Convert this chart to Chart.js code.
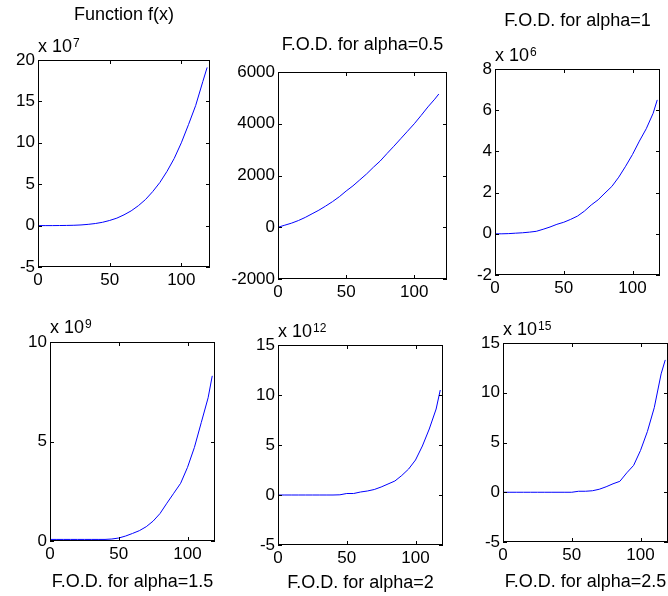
<!DOCTYPE html>
<html>
<head>
<meta charset="utf-8">
<script src="https://cdn.jsdelivr.net/npm/chart.js@4.4.1/dist/chart.umd.min.js"></script>
<style>
  html, body { margin: 0; padding: 0; background: #fff; }
  #wrap { position: relative; width: 668px; height: 596px; overflow: hidden; }
  #wrap canvas { position: absolute; left: 0; top: 0; }
</style>
</head>
<body>
<div id="wrap"></div>
<script>
// sample positions along x (same for every panel)
const xValues = [0, 5, 10, 15, 20, 25, 30, 35, 40, 45, 50, 55, 60, 65, 70, 75, 80, 85, 90, 95, 100, 105, 110, 115, 118];

// values, in the units shown on each axis
const fValues = [0, 0, 0, 0.01, 0.02, 0.04, 0.08, 0.15, 0.25, 0.4, 0.62, 0.9, 1.3, 1.78, 2.4, 3.15, 4.1, 5.2, 6.55, 8.1, 10.0, 12.2, 14.5, 17.4, 19.1];
const fod05Values = [0, 80, 160, 260, 380, 520, 660, 820, 990, 1180, 1400, 1600, 1830, 2060, 2320, 2560, 2850, 3130, 3420, 3710, 4000, 4320, 4650, 4950, 5150];
const fod1Values = [0, 0, 0.01, 0.03, 0.05, 0.08, 0.12, 0.22, 0.33, 0.46, 0.56, 0.7, 0.86, 1.1, 1.4, 1.65, 1.98, 2.3, 2.75, 3.28, 3.85, 4.5, 5.1, 5.85, 6.5];
const fod15Values = [0.08, 0.08, 0.08, 0.08, 0.08, 0.08, 0.08, 0.08, 0.08, 0.1, 0.15, 0.25, 0.38, 0.52, 0.72, 1.0, 1.38, 1.9, 2.4, 2.9, 3.7, 4.7, 5.95, 7.2, 8.3];
const fod2Values = [0, 0, 0, 0, 0, 0, 0, 0, 0, 0.02, 0.15, 0.15, 0.3, 0.4, 0.55, 0.8, 1.1, 1.4, 1.95, 2.6, 3.5, 4.9, 6.6, 8.6, 10.5];
const fod25Values = [0, 0, 0, 0, 0, 0, 0, 0, 0, 0, 0, 0.1, 0.1, 0.15, 0.3, 0.55, 0.85, 1.1, 1.95, 2.7, 4.2, 6.1, 8.5, 11.9, 13.3];

// tick labels
const xTicks = [0, 50, 100];
const fTicks = [-5, 0, 5, 10, 15, 20];
const fod05Ticks = [-2000, 0, 2000, 4000, 6000];
const fod1Ticks = [-2, 0, 2, 4, 6, 8];
const fod15Ticks = [0, 5, 10];
const fod2Ticks = [-5, 0, 5, 10, 15];
const fod25Ticks = [-5, 0, 5, 10, 15];

// axis exponents and labels
const exponents = ['7', null, '6', '9', '12', '15'];
const titles = ['Function f(x)', 'F.O.D. for alpha=0.5', 'F.O.D. for alpha=1', null, null, null];
const xLabels = [null, null, null, 'F.O.D. for alpha=1.5', 'F.O.D. for alpha=2', 'F.O.D. for alpha=2.5'];

const W = 668, H = 596;
const Y_AXIS_W = 50, X_AXIS_H = 30;
const FONT = "'Liberation Sans', Arial, sans-serif";

// layout of each subplot box, and where its texts sit
const panels = [
  { values: fValues, yTicks: fTicks, xMax: 120, box: [38, 60, 210, 267], titleY: 20, exp: [38, 52] },
  { values: fod05Values, yTicks: fod05Ticks, xMax: 124, box: [278, 72, 447, 279], titleY: 50, exp: null },
  { values: fod1Values, yTicks: fod1Ticks, xMax: 120, box: [495, 69, 660, 275], titleY: 26, exp: [495, 61] },
  { values: fod15Values, yTicks: fod15Ticks, xMax: 120, box: [50, 342, 215, 541], labelY: 587, exp: [50, 333] },
  { values: fod2Values, yTicks: fod2Ticks, xMax: 120, box: [278, 345, 443, 545], labelY: 588, exp: [278, 337] },
  { values: fod25Values, yTicks: fod25Ticks, xMax: 120, box: [503, 343, 668, 542], labelY: 587, exp: [503, 335] }
];

function framePlugin(i) {
  const p = panels[i];
  return {
    id: 'frame' + i,
    afterDraw(chart) {
      const { ctx, chartArea: a, scales: { x, y } } = chart;
      ctx.save();
      ctx.strokeStyle = '#000';
      ctx.lineWidth = 1;
      ctx.strokeRect(a.left + 0.5, a.top + 0.5, a.width - 1, a.height - 1);
      ctx.beginPath();
      x.ticks.forEach(t => {
        const px = Math.round(x.getPixelForValue(t.value)) + 0.5;
        ctx.moveTo(px, a.bottom); ctx.lineTo(px, a.bottom - 4);
        ctx.moveTo(px, a.top); ctx.lineTo(px, a.top + 4);
      });
      y.ticks.forEach(t => {
        const py = Math.round(y.getPixelForValue(t.value)) + 0.5;
        ctx.moveTo(a.left, py); ctx.lineTo(a.left + 4, py);
        ctx.moveTo(a.right, py); ctx.lineTo(a.right - 4, py);
      });
      ctx.stroke();

      ctx.fillStyle = '#000';
      ctx.textBaseline = 'alphabetic';
      const cx = (a.left + a.right) / 2;
      ctx.font = '18px ' + FONT;
      ctx.textAlign = 'center';
      if (titles[i]) ctx.fillText(titles[i], cx, p.titleY);
      if (xLabels[i]) ctx.fillText(xLabels[i], cx, p.labelY);
      if (exponents[i]) {
        ctx.textAlign = 'left';
        ctx.fillText('x 10', p.exp[0], p.exp[1]);
        const w = ctx.measureText('x 10').width;
        ctx.font = '12px ' + FONT;
        ctx.fillText(exponents[i], p.exp[0] + w + 1, p.exp[1] - 5);
      }
      ctx.restore();
    }
  };
}

const wrap = document.getElementById('wrap');

panels.forEach((p, i) => {
  const canvas = document.createElement('canvas');
  canvas.width = W;
  canvas.height = H;
  wrap.appendChild(canvas);
  const [left, top, right, bottom] = p.box;

  new Chart(canvas, {
    type: 'line',
    data: {
      datasets: [{
        data: xValues.map((x, k) => ({ x: x, y: p.values[k] })),
        borderColor: '#0000ff',
        borderWidth: 1,
        pointRadius: 0,
        tension: 0,
        fill: false
      }]
    },
    options: {
      responsive: false,
      animation: false,
      events: [],
      layout: {
        padding: { left: left - Y_AXIS_W, top: top, right: W - right, bottom: H - bottom - X_AXIS_H }
      },
      plugins: { legend: { display: false }, tooltip: { enabled: false } },
      scales: {
        x: {
          type: 'linear',
          min: 0,
          max: p.xMax,
          grid: { display: false, drawTicks: false },
          border: { display: false },
          afterBuildTicks: s => { s.ticks = xTicks.map(v => ({ value: v })); },
          afterFit: s => { s.height = X_AXIS_H; },
          ticks: { color: '#000', padding: 3, maxRotation: 0, font: { family: FONT, size: 17 }, callback: v => String(v) }
        },
        y: {
          type: 'linear',
          min: p.yTicks[0],
          max: p.yTicks[p.yTicks.length - 1],
          grid: { display: false, drawTicks: false },
          border: { display: false },
          afterBuildTicks: s => { s.ticks = p.yTicks.map(v => ({ value: v })); },
          afterFit: s => { s.width = Y_AXIS_W; },
          ticks: { color: '#000', padding: 3, font: { family: FONT, size: 17 }, callback: v => String(v) }
        }
      }
    },
    plugins: [framePlugin(i)]
  });
});
</script>
</body>
</html>
